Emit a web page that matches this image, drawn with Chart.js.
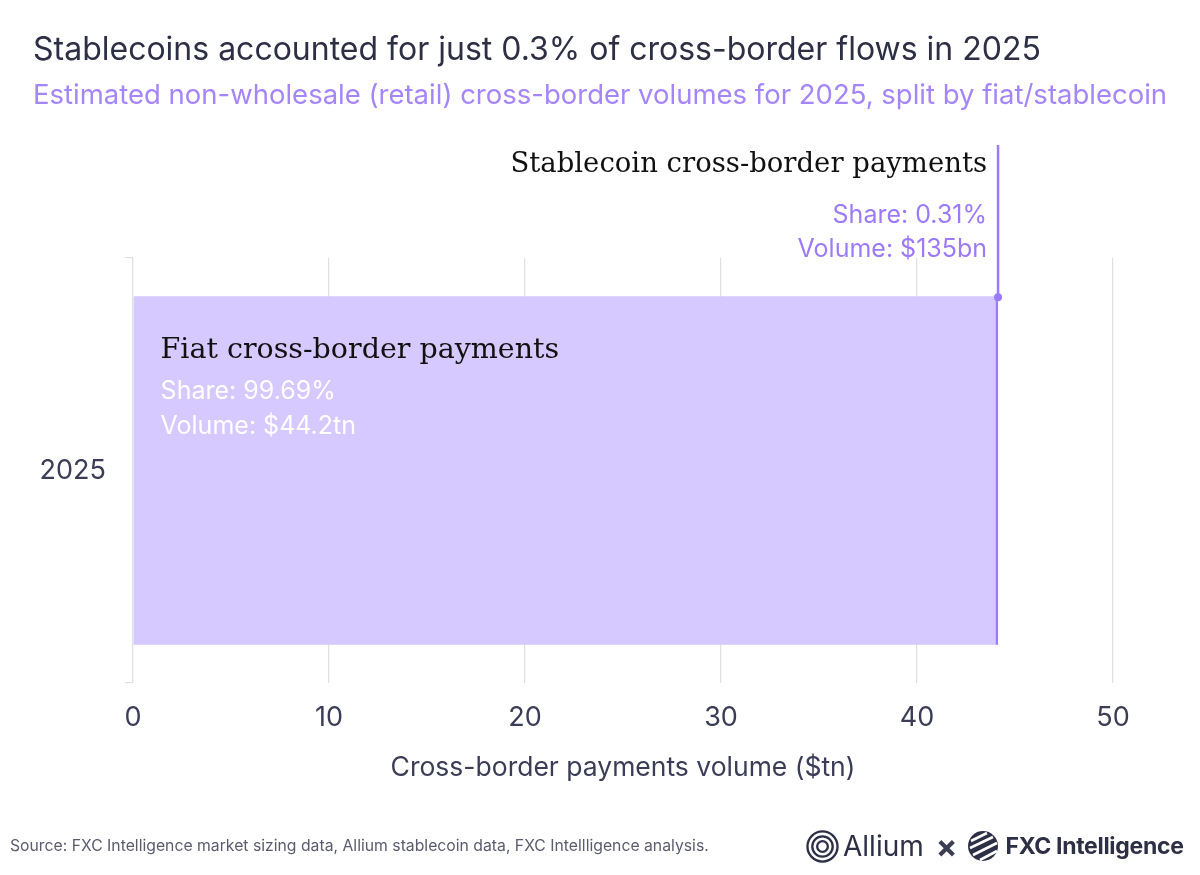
<!DOCTYPE html>
<html>
<head>
<meta charset="utf-8">
<script src="https://cdn.jsdelivr.net/npm/chart.js@4"></script>
<style>
  html, body { margin: 0; padding: 0; background: #fff; }
  body { width: 1200px; height: 875px; position: relative; overflow: hidden; font-family: Inter, "Noto Sans", sans-serif; }
  #wrap { position: absolute; left: 0; top: 0; width: 1200px; height: 875px; }
  .title { position: absolute; left: 33px; top: 29px; font-size: 32px; color: #2d2f45; white-space: nowrap; }
  .subtitle { position: absolute; left: 33px; top: 77px; font-size: 27.5px; color: #a585fa; white-space: nowrap; }
  .source { position: absolute; left: 10px; top: 836px; font-size: 15.75px; color: #5a5c6e; white-space: nowrap; }
  .logos { position: absolute; left: 806px; top: 828px; height: 36px; display: flex; align-items: center; color: #2d2f45; white-space: nowrap; }
  .logos .allium { font-size: 28px; margin-left: 4px; }
  .logos .x { font-size: 32px; margin: 0 10px 0 12px; color: #3b3d55; font-weight: 700; }
  .logos .fxc { font-size: 23px; font-weight: 700; margin-left: 6px; letter-spacing: -0.3px; }
</style>
</head>
<body>
<div id="wrap"><canvas id="chart" width="1200" height="875"></canvas></div>
<div class="title">Stablecoins accounted for just 0.3% of cross-border flows in 2025</div>
<div class="subtitle">Estimated non-wholesale (retail) cross-border volumes for 2025, split by fiat/stablecoin</div>
<div class="source">Source: FXC Intelligence market sizing data, Allium stablecoin data, FXC Intellligence analysis.</div>
<div class="logos">
  <svg width="33" height="33" viewBox="0 0 34 34">
    <circle cx="17" cy="17" r="15.5" fill="none" stroke="#2d2f45" stroke-width="2.4"/>
    <circle cx="17" cy="17" r="10.5" fill="none" stroke="#2d2f45" stroke-width="2.4"/>
    <circle cx="17" cy="17" r="5.5" fill="none" stroke="#2d2f45" stroke-width="2.4"/>
  </svg>
  <span class="allium">Allium</span>
  <span class="x">×</span>
  <svg width="32" height="32" viewBox="0 0 32 32">
    <circle cx="16" cy="16" r="15" fill="#2d2f45"/>
    <path d="M4 11 L20 3 M3 18 L26 7 M6 25 L30 13 M13 30 L30 21" stroke="#fff" stroke-width="2.6"/>
  </svg>
  <span class="fxc">FXC Intelligence</span>
</div>
<script>
// Chart data
const categories = ['2025'];
const fiatVolume = [44.0];      // $tn, as drawn
const stableVolume = [0.135];   // $tn
const xTicks = [0, 10, 20, 30, 40, 50];

const fiatLabel = ['Fiat cross-border payments', 'Share: 99.69%', 'Volume: $44.2tn'];
const stableLabel = ['Stablecoin cross-border payments', 'Share: 0.31%', 'Volume: $135bn'];

const fiatColor = '#d5c9ff';
const stableColor = '#9c7af8';
const gridColor = '#e0e0e4';
const textColor = '#3a3d55';

// draws the labels inside the bar and the callout for the stablecoin sliver
const labelPlugin = {
    id: 'barLabels',
    afterDatasetsDraw(chart) {
        const ctx = chart.ctx;
        const fiatBar = chart.getDatasetMeta(0).data[0];
        const stableBar = chart.getDatasetMeta(1).data[0];
        const top = fiatBar.y - fiatBar.height / 2;
        const left = fiatBar.base;

        ctx.save();
        // fiat label
        ctx.textBaseline = 'alphabetic';
        ctx.textAlign = 'left';
        ctx.fillStyle = '#111';
        ctx.font = '28.5px "DejaVu Serif", serif';
        ctx.fillText(fiatLabel[0], left + 27, top + 62);
        ctx.fillStyle = '#ffffff';
        ctx.font = '25px Inter, sans-serif';
        ctx.fillText(fiatLabel[1], left + 27, top + 103);
        ctx.fillText(fiatLabel[2], left + 27, top + 138);

        // stablecoin callout line
        const sx = stableBar.x;
        ctx.strokeStyle = stableColor;
        ctx.lineWidth = 2.5;
        ctx.beginPath();
        ctx.moveTo(sx, 145);
        ctx.lineTo(sx, top);
        ctx.stroke();
        ctx.fillStyle = stableColor;
        ctx.beginPath();
        ctx.arc(sx, top + 1, 4, 0, Math.PI * 2);
        ctx.fill();

        ctx.textAlign = 'right';
        ctx.fillStyle = '#111';
        ctx.font = '27.5px "DejaVu Serif", serif';
        ctx.fillText(stableLabel[0], sx - 11, 172);
        ctx.fillStyle = stableColor;
        ctx.font = '25px Inter, sans-serif';
        ctx.fillText(stableLabel[1], sx - 11, 223);
        ctx.fillText(stableLabel[2], sx - 11, 257);
        ctx.restore();
    }
};

new Chart(document.getElementById('chart'), {
    type: 'bar',
    data: {
        labels: categories,
        datasets: [
            {
                label: 'Fiat',
                data: fiatVolume,
                backgroundColor: fiatColor,
                borderWidth: 0,
                barPercentage: 0.82,
                categoryPercentage: 1
            },
            {
                label: 'Stablecoin',
                data: stableVolume,
                backgroundColor: stableColor,
                borderWidth: 0,
                barPercentage: 0.82,
                categoryPercentage: 1
            }
        ]
    },
    options: {
        indexAxis: 'y',
        responsive: false,
        animation: false,
        layout: { padding: { top: 258, right: 87, bottom: 91, left: 0 } },
        plugins: {
            legend: { display: false },
            tooltip: { enabled: false }
        },
        scales: {
            x: {
                stacked: true,
                min: 0,
                max: 50,
                afterBuildTicks: (scale) => { scale.ticks = xTicks.map(v => ({ value: v })); },
                afterFit: (scale) => { scale.height = 101; },
                grid: { color: gridColor, drawTicks: false, lineWidth: 1.2 },
                border: { display: false },
                ticks: { color: textColor, font: { family: 'Inter', size: 27 }, padding: 19 },
                title: {
                    display: true,
                    text: 'Cross-border payments volume ($tn)',
                    color: textColor,
                    font: { family: 'Inter', size: 26.5 },
                    padding: { top: 10, bottom: 0 }
                }
            },
            y: {
                stacked: true,
                afterFit: (scale) => { scale.width = 133; },
                grid: { color: gridColor, drawOnChartArea: false, tickLength: 8, lineWidth: 1.2 },
                border: { color: gridColor, width: 1.2 },
                ticks: { color: textColor, font: { family: 'Inter', size: 27 }, padding: 19 }
            }
        }
    },
    plugins: [labelPlugin]
});
</script>
</body>
</html>
